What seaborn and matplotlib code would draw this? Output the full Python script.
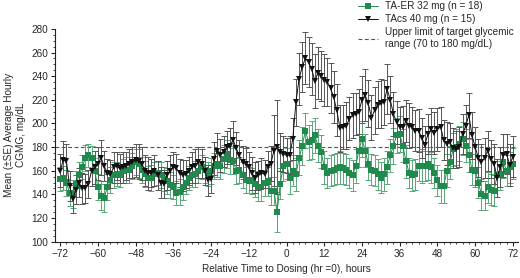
import numpy as np
import pandas as pd
import matplotlib
matplotlib.use("Agg")
import matplotlib.pyplot as plt
from matplotlib.ticker import MultipleLocator
import seaborn as sns

# heures relatives à la prise (-72 .. 72)
hours = list(range(-72, 73))

ta_er_mean = [
    153, 154, 150, 141, 140, 149, 156, 163, 171, 173, 171, 160,
    146, 139, 137, 146, 152, 156, 157, 156, 160, 161, 161, 164,
    167, 166, 161, 157, 154, 154, 157, 158, 156, 153, 151, 148,
    146, 141, 142, 146, 150, 154, 156, 157, 160, 163, 161, 157,
    160, 164, 166, 164, 170, 174, 169, 168, 160, 161, 156, 152,
    152, 151, 149, 146, 146, 150, 151, 143, 143, 125, 149, 164,
    166, 154, 160, 157, 171, 181, 194, 184, 186, 190, 181, 176,
    163, 158, 160, 161, 162, 163, 162, 161, 158, 156, 164, 177,
    187, 177, 166, 161, 160, 157, 154, 157, 163, 173, 181, 190,
    191, 181, 168, 158, 156, 157, 164, 164, 164, 166, 163, 158,
    152, 147, 147, 160, 167, 178, 180, 183, 187, 181, 173, 161,
    160, 150, 140, 139, 146, 144, 143, 156, 157, 167, 160, 163, 166,
]
ta_er_se = [
    10, 10, 11, 11, 12, 11, 11, 10, 11, 10, 10, 11,
    11, 12, 12, 11, 11, 11, 10, 10, 10, 11, 11, 11,
    11, 12, 11, 11, 10, 11, 10, 10, 11, 10, 11, 11,
    10, 10, 11, 11, 10, 10, 10, 11, 10, 10, 11, 10,
    11, 11, 11, 11, 12, 12, 12, 11, 11, 11, 11, 11,
    11, 11, 11, 12, 12, 11, 12, 12, 12, 17, 13, 13,
    13, 14, 13, 14, 15, 16, 15, 15, 16, 15, 14, 14,
    14, 13, 13, 13, 13, 14, 13, 13, 13, 13, 14, 14,
    15, 14, 14, 13, 13, 13, 13, 14, 14, 14, 15, 15,
    15, 14, 14, 13, 13, 13, 13, 14, 13, 14, 13, 13,
    13, 14, 14, 14, 14, 14, 15, 15, 14, 14, 14, 13,
    14, 13, 13, 12, 13, 13, 13, 12, 13, 13, 13, 13, 13,
]

tacs_mean = [
    160, 169, 168, 147, 136, 144, 150, 145, 145, 149, 160, 163,
    166, 171, 164, 158, 157, 163, 164, 162, 163, 164, 166, 167,
    169, 168, 166, 160, 158, 158, 160, 156, 150, 149, 156, 160,
    163, 162, 158, 156, 157, 160, 163, 164, 167, 166, 160, 152,
    153, 170, 177, 173, 176, 180, 181, 186, 179, 173, 167, 166,
    163, 158, 154, 156, 158, 157, 163, 166, 177, 180, 176, 174,
    173, 173, 187, 218, 238, 248, 255, 252, 246, 236, 243, 240,
    237, 235, 230, 222, 211, 196, 197, 198, 204, 207, 208, 210,
    220, 224, 217, 205, 211, 216, 217, 218, 229, 220, 208, 201,
    197, 197, 202, 198, 197, 194, 194, 188, 182, 191, 195, 192,
    195, 197, 186, 183, 184, 179, 178, 180, 191, 198, 207, 190,
    180, 171, 167, 171, 177, 170, 166, 154, 163, 173, 174, 165, 172,
]
tacs_se = [
    14, 16, 15, 13, 12, 12, 12, 13, 12, 12, 13, 14,
    14, 15, 13, 12, 12, 13, 12, 12, 13, 12, 12, 13,
    14, 15, 14, 13, 14, 12, 13, 12, 13, 12, 12, 13,
    13, 12, 12, 13, 12, 12, 13, 14, 13, 12, 12, 13,
    12, 14, 15, 14, 13, 14, 15, 16, 14, 13, 14, 13,
    13, 14, 13, 12, 13, 12, 14, 15, 30, 40, 16, 15,
    15, 16, 18, 20, 22, 21, 22, 21, 22, 23, 22, 21,
    22, 20, 21, 22, 22, 20, 19, 20, 18, 19, 18, 19,
    20, 22, 20, 19, 20, 20, 21, 19, 21, 20, 19, 18,
    17, 18, 18, 19, 17, 17, 18, 17, 16, 17, 18, 18,
    18, 17, 17, 18, 16, 17, 16, 17, 17, 18, 19, 20,
    17, 16, 16, 17, 17, 16, 17, 16, 17, 18, 17, 18, 17,
]

target_upper = 180
labels = ["TA-ER 32 mg (n = 18)", "TAcs 40 mg (n = 15)"]
limit_label = "Upper limit of target glycemic\nrange (70 to 180 mg/dL)"
colors = {labels[0]: "#1f8a4c", labels[1]: "#111111"}
bar_colors = {labels[0]: "#5aa878", labels[1]: "#555555"}

sns.set_theme(style="ticks")
plt.rcParams["font.family"] = ["Liberation Sans", "DejaVu Sans"]

df = pd.concat([
    pd.DataFrame({"hour": hours, "cgmg": ta_er_mean, "se": ta_er_se, "group": labels[0]}),
    pd.DataFrame({"hour": hours, "cgmg": tacs_mean, "se": tacs_se, "group": labels[1]}),
])

fig = plt.figure(figsize=(5.2, 2.78), dpi=100)
ax = fig.add_axes([0.106, 0.131, 0.89, 0.765])

ax.axhline(target_upper, color="#555555", lw=0.8, ls=(0, (3.5, 2.2)), zorder=1, label=limit_label)

for g in labels:
    sub = df[df["group"] == g]
    ax.errorbar(sub["hour"], sub["cgmg"], yerr=sub["se"], fmt="none",
                ecolor=bar_colors[g], elinewidth=0.7, capsize=2.2, capthick=0.7, zorder=2)

sns.lineplot(data=df, x="hour", y="cgmg", hue="group", style="group",
             hue_order=labels, style_order=labels, palette=colors,
             markers={labels[0]: "s", labels[1]: "v"}, dashes=False,
             markersize=4.4, markeredgewidth=0, linewidth=0.7, ax=ax, zorder=3)

ax.set_xlim(-73.6, 73.6)
ax.set_ylim(100, 280)
ax.yaxis.set_major_locator(MultipleLocator(20))
ax.yaxis.set_minor_locator(MultipleLocator(5))
ax.xaxis.set_minor_locator(MultipleLocator(2))
ax.set_xticks(range(-72, 73, 12))
ax.set_xticklabels([str(v).replace("-", "\u2212") for v in range(-72, 73, 12)])
ax.tick_params(axis="both", which="major", labelsize=7.2, length=3, width=0.8, pad=2, direction="out")
ax.tick_params(axis="both", which="minor", length=1.6, width=0.6, direction="out")
for s in ["top", "right"]:
    ax.spines[s].set_visible(False)
for s in ["left", "bottom"]:
    ax.spines[s].set_linewidth(0.8)
    ax.spines[s].set_color("#222222")

ax.set_xlabel("Relative Time to Dosing (hr =0), hours", fontsize=7.2, labelpad=4)
ax.set_ylabel("Mean (\u00b1SE) Average Hourly\nCGMG, mg/dL", fontsize=7.2, labelpad=4)

handles, lbls = ax.get_legend_handles_labels()
order = [lbls.index(labels[0]), lbls.index(labels[1]), lbls.index(limit_label)]
ax.legend([handles[i] for i in order], [lbls[i] for i in order],
          loc="upper left", bbox_to_anchor=(0.655, 1.13), frameon=False,
          fontsize=7.2, handlelength=2.0, handletextpad=0.7, labelspacing=0.3,
          borderaxespad=0, borderpad=0)

fig.savefig("out.png", dpi=100)
